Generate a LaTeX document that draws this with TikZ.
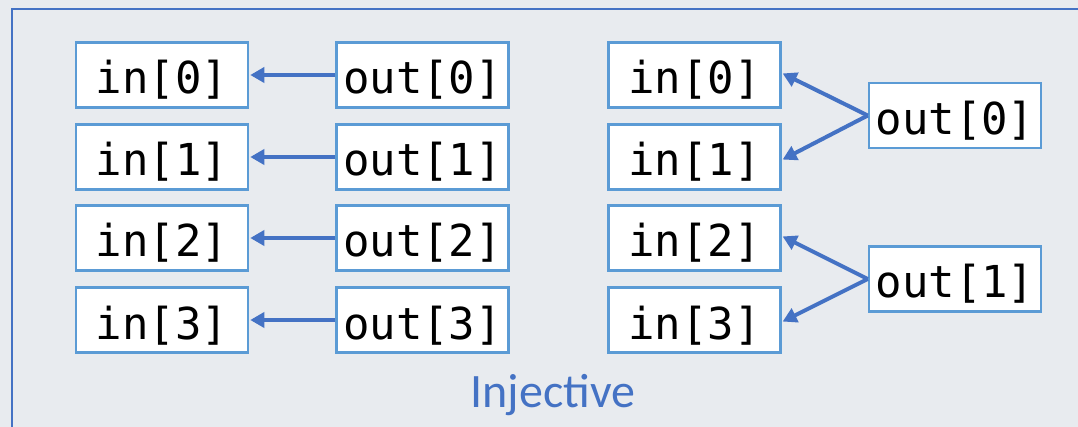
\documentclass[tikz,border=0pt]{standalone}
\usepackage{fontspec}
\setmainfont{Carlito}
\setmonofont{DejaVu Sans Mono}
\usetikzlibrary{arrows.meta}
\definecolor{bgc}{RGB}{232,235,239}
\definecolor{framec}{RGB}{68,114,196}
\definecolor{boxc}{RGB}{91,155,213}
\definecolor{arrc}{RGB}{68,114,196}
\newcommand{\celltext}[1]{\raisebox{-19pt}[0pt][0pt]{#1}}
\tikzset{
  cell/.style={draw=boxc, line width=2.5pt, fill=white, minimum width=172pt, minimum height=65pt, inner sep=0pt,
    text height=0pt, text depth=0pt,
    font=\ttfamily\fontsize{44}{48}\selectfont, text=black},
  link/.style={draw=arrc, line width=4pt, -{Triangle[length=14pt,width=15pt]}, shorten >=1pt},
}
\begin{document}
\begin{tikzpicture}[x=1pt,y=-1pt]
\useasboundingbox (0,0) rectangle (1078,427);
\fill[bgc] (0,0) rectangle (1078,427);
\draw[framec, line width=2pt] (1090,9) -- (12,9) -- (12,440);
% left group
\node[cell] (li0) at (162,75) {\celltext{in[0]}};
\node[cell] (li1) at (162,157) {\celltext{in[1]}};
\node[cell] (li2) at (162,238) {\celltext{in[2]}};
\node[cell] (li3) at (162,320) {\celltext{in[3]}};
\node[cell] (lo0) at (422.5,75) {\celltext{out[0]}};
\node[cell] (lo1) at (422.5,157) {\celltext{out[1]}};
\node[cell] (lo2) at (422.5,238) {\celltext{out[2]}};
\node[cell] (lo3) at (422.5,320) {\celltext{out[3]}};
\foreach \i in {0,1,2,3} {\draw[link] (lo\i.west) -- (li\i.east);}
% right group
\node[cell] (ri0) at (694.5,75) {\celltext{in[0]}};
\node[cell] (ri1) at (694.5,157) {\celltext{in[1]}};
\node[cell] (ri2) at (694.5,238) {\celltext{in[2]}};
\node[cell] (ri3) at (694.5,320) {\celltext{in[3]}};
\node[cell] (ro0) at (955,115.5) {\celltext{out[0]}};
\node[cell] (ro1) at (955,279) {\celltext{out[1]}};
\draw[link] (ro0.west) -- ([yshift=2pt]ri0.east);
\draw[link] (ro0.west) -- ([yshift=-3pt]ri1.east);
\draw[link] (ro1.west) -- ([yshift=2pt]ri2.east);
\draw[link] (ro1.west) -- ([yshift=-2pt]ri3.east);
\node[text=framec, font=\fontsize{48}{52}\selectfont] (cap) at (553,395) {Injective};
\end{tikzpicture}
\end{document}
